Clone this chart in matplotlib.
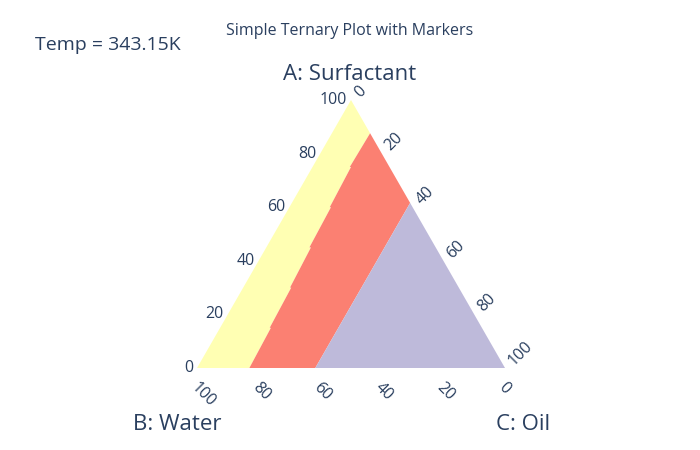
import matplotlib
matplotlib.use("Agg")
import matplotlib.pyplot as plt
import numpy as np

# boundary between the yellow and red phases (ternary a and c, in %)
edge1_a = [87.6, 75.0, 75.0, 60.0, 60.0, 45.0, 45.0, 30.0, 30.0, 15.0, 15.0, 0.0]
edge1_c = [12.4, 12.1, 12.5, 13.1, 13.5, 14.0, 14.5, 15.2, 15.6, 16.1, 16.5, 17.0]

# boundary between the red and purple phases
edge2_a = [61.6, 0.0]
edge2_c = [38.4, 38.4]

phase_colors = ["#FFFFB3", "#FB8072", "#BEBADA"]
tick_values = [0, 20, 40, 60, 80, 100]

TEXT = "#2a3f5f"
plt.rcParams["font.family"] = ["Open Sans", "DejaVu Sans"]


def to_xy(a, c):
    a = np.asarray(a, dtype=float)
    c = np.asarray(c, dtype=float)
    return c + a / 2.0, a * np.sqrt(3) / 2.0


fig = plt.figure(figsize=(7, 4.5), dpi=100)
h = np.sqrt(3) / 2 * 100
ax = fig.add_axes([197 / 700, (450 - 368) / 450, 308 / 700, 268 / 450])
ax.set_xlim(0, 100)
ax.set_ylim(0, h)
ax.axis("off")

# yellow: left edge, top vertex, down to first boundary
ya = [0, 100] + edge1_a
yc = [0, 0] + edge1_c
x, y = to_xy(ya, yc)
ax.fill(x, y, color=phase_colors[0], lw=0)

# red: between the two boundaries
ra = edge1_a + edge2_a[::-1]
rc = edge1_c + edge2_c[::-1]
x, y = to_xy(ra, rc)
ax.fill(x, y, color=phase_colors[1], lw=0)

# purple: from second boundary to the C vertex
pa = edge2_a + [0]
pc = edge2_c + [100]
x, y = to_xy(pa, pc)
ax.fill(x, y, color=phase_colors[2], lw=0)

px = 0.72  # points per pixel
for v in tick_values:
    # a axis (left edge)
    x, y = to_xy(v, 0)
    ax.annotate(str(v), (x, y), xytext=(-4 * px, 0), textcoords="offset points",
                ha="right", va="center", fontsize=11.5, color=TEXT, annotation_clip=False)
    # b axis (bottom edge), value b at c = 100 - b
    x, y = to_xy(0, 100 - v)
    ax.annotate(str(v), (x, y), xytext=(-4 * px, -17 * px), textcoords="offset points",
                ha="left", va="center", rotation=-45, rotation_mode="anchor",
                fontsize=11.5, color=TEXT, annotation_clip=False)
    # c axis (right edge)
    x, y = to_xy(100 - v, v)
    ax.annotate(str(v), (x, y), xytext=(6 * px, 5 * px), textcoords="offset points",
                ha="left", va="center", rotation=45, rotation_mode="anchor",
                fontsize=11.5, color=TEXT, annotation_clip=False)

fig.text(350 / 700, 1 - 31 / 450, "Simple Ternary Plot with Markers",
         ha="center", va="center", fontsize=11.5, color=TEXT)
fig.text(35 / 700, 1 - 45 / 450, "Temp = 343.15K",
         ha="left", va="center", fontsize=14, color=TEXT)
fig.text(350 / 700, 1 - 74 / 450, "A: Surfactant",
         ha="center", va="center", fontsize=16, color=TEXT)
fig.text(177 / 700, 1 - 424 / 450, "B: Water",
         ha="center", va="center", fontsize=16, color=TEXT)
fig.text(523 / 700, 1 - 424 / 450, "C: Oil",
         ha="center", va="center", fontsize=16, color=TEXT)

fig.savefig("out.png", dpi=100, facecolor="white")
